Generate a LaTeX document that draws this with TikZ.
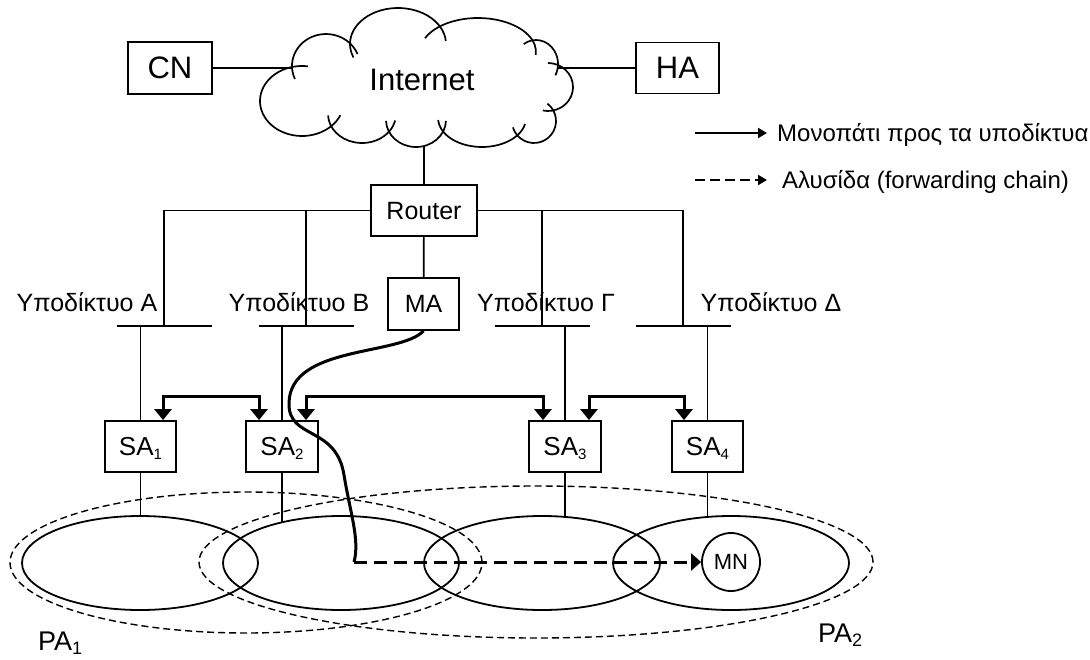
\documentclass[tikz,border=0pt]{standalone}
\usepackage{fontspec}
\setmainfont{Liberation Sans}
\usetikzlibrary{arrows.meta,shapes.geometric}
\newcommand\fsz[1]{\fontsize{#1}{#1}\selectfont}
\newcommand\lowidx[3]{\raisebox{-#3pt}{\fontsize{#2}{#2}\selectfont #1}}
\begin{document}
\begin{tikzpicture}[x=1pt,y=-1pt,
  thinln/.style={line width=1.7pt},
  boldln/.style={line width=3pt},
  cloudln/.style={line width=1.7pt},
  boxnode/.style={draw, line width=1.8pt, inner sep=0pt, minimum height=51pt, text depth=0pt},
  zone/.style={draw, ellipse, line width=1.8pt, inner sep=0pt, minimum width=236pt, minimum height=94pt},
  pazone/.style={draw, ellipse, line width=1.4pt, dash pattern=on 7pt off 4pt, inner sep=0pt},
  biarrow/.style={line width=3pt, {Triangle[length=11pt,width=17pt]}-{Triangle[length=11pt,width=17pt]}},
  chainarrow/.style={line width=3pt, dash pattern=on 13pt off 7pt, -{Triangle[length=10pt,width=17pt]}},
  legarrow/.style={line width=2pt, -{Triangle[length=9pt,width=10pt]}},
  sublabel/.style={anchor=base, inner sep=0pt, font=\fsz{25}},
  legtext/.style={anchor=base west, inner sep=0pt, font=\fsz{24}}
]
\useasboundingbox (0,0) rectangle (1090,659);

% --- Internet cloud: overlapping puffs, each arc running a little past its neighbours
\foreach \cx/\cy/\rx/\ry/\sa/\ea in {
  302/101/42/35/24/278, 326/66/34/32/156/338, 398/44/48/36/158/355,
  478/52/58/34/204/365, 536/64/22/24/236/388, 548/87/25/24/270/462,
  534/121/22/22/308/523, 482/118/44/29/12/176, 416/120/30/27/2/178,
  362/114/34/29/13/177}
  \draw[cloudln] (\cx,\cy) ++({\rx*cos(\sa)},{\ry*sin(\sa)}) arc[start angle=\sa, end angle=\ea, x radius=\rx, y radius=\ry];
\node[inner sep=0pt, font=\fsz{31}] (inet) at (422,80) {Internet};
\coordinate (cl) at (292,68);
\coordinate (cr) at (558,68);
\coordinate (cb) at (424,146);

% --- hosts attached to the Internet
\node[boxnode, minimum width=84pt, minimum height=52pt, font=\fsz{31}] (cn) at (170,68) {CN};
\node[boxnode, minimum width=83pt, font=\fsz{31}] (ha) at (677.5,68) {HA};
\draw[thinln] (cn.east) -- (cl);
\draw[thinln] (cr) -- (ha.west);

% --- router, MA and the four subnets
\node[boxnode, minimum width=106pt, font=\fsz{25}] (router) at (424,210.5) {Router};
\node[boxnode, minimum width=71pt, minimum height=52pt, font=\fsz{25}] (ma) at (423.5,304) {MA};
\draw[thinln] (cb) -- (router.north);
\draw[thinln] (router) -- (ma);

\coordinate (bA) at (164,326);
\coordinate (bB) at (306,326);
\coordinate (bG) at (542,326);
\coordinate (bD) at (683,326);
\draw[thinln] (router.west) -| (bA);
\draw[thinln] (bB |- router.west) -- (bB);
\draw[thinln] (router.east) -| (bD);
\draw[thinln] (bG |- router.east) -- (bG);
\foreach \b in {bA,bB,bG,bD}
  \draw[thinln] ([xshift=-47.5pt]\b) -- ([xshift=47.5pt]\b);

\node[sublabel] (labA) at (87,311) {Υποδίκτυο Α};
\node[sublabel] (labB) at (299,311) {Υποδίκτυο Β};
\node[sublabel] (labG) at (546,311) {Υποδίκτυο Γ};
\node[sublabel] (labD) at (771,311) {Υποδίκτυο Δ};

% --- subnet agents
\node[boxnode, minimum width=71pt, font=\fsz{26}] (sa1) at (140.5,446.5) {SA\lowidx{1}{15}{4}};
\node[boxnode, minimum width=72pt, font=\fsz{26}] (sa2) at (282,446.5) {SA\lowidx{2}{15}{4}};
\node[boxnode, minimum width=72pt, font=\fsz{26}] (sa3) at (565,446.5) {SA\lowidx{3}{15}{4}};
\node[boxnode, minimum width=71pt, font=\fsz{26}] (sa4) at (707.5,446.5) {SA\lowidx{4}{15}{4}};
\draw[thinln] (sa1.north |- bA) -- (sa1.north);
\draw[thinln] (sa2.north |- bB) -- (sa2.north);
\draw[thinln] (sa3.north |- bG) -- (sa3.north);
\draw[thinln] (sa4.north |- bD) -- (sa4.north);

% --- paging areas and cells
\node[pazone, minimum width=472pt, minimum height=141pt] (pa1) at (246,562.5) {};
\node[pazone, minimum width=674pt, minimum height=152pt] (pa2) at (536,562) {};
\node[zone] (e1) at (140,563) {};
\node[zone] (e2) at (341,563) {};
\node[zone] (e3) at (542,563) {};
\node[zone] (e4) at (731,563) {};
\coordinate (t1) at (140.5,516);
\coordinate (t2) at (282,522.3);
\coordinate (t3) at (565,517);
\coordinate (t4) at (707.5,517);
\draw[thinln] (sa1.south) -- (t1);
\draw[thinln] (sa2.south) -- (t2);
\draw[thinln] (sa3.south) -- (t3);
\draw[thinln] (sa4.south) -- (t4);

\node[anchor=base west, inner sep=0pt, font=\fsz{27}] (pa1lbl) at (38,650) {PA\lowidx{1}{18}{4}};
\node[anchor=base west, inner sep=0pt, font=\fsz{27}] (pa2lbl) at (818,642) {PA\lowidx{2}{18}{4}};

% --- mobile node
\node[draw, circle, line width=1.8pt, minimum size=58pt, inner sep=0pt, font=\fsz{22}] (mn) at (731,562) {MN};

% --- paths between neighbouring agents
\draw[biarrow] ([xshift=22.5pt]sa1.north) -- ++(0,-24) -| ([xshift=-23pt]sa2.north);
\draw[biarrow] ([xshift=24pt]sa2.north) -- ++(0,-24) -| ([xshift=-22pt]sa3.north);
\draw[biarrow] ([xshift=24pt]sa3.north) -- ++(0,-24) -| ([xshift=-23.5pt]sa4.north);

% --- route from MA down to the forwarding chain
\coordinate (chain) at (354,562);
\draw[boldln, line join=round] (ma.south) .. controls (400,356) and (290,345) .. (289,403)
  .. controls (288,440) and (336,425) .. (344,475)
  .. controls (350,512) and (360,540) .. (chain);
\draw[chainarrow] (chain) -- (mn.west);

% --- legend
\coordinate (lg1s) at (695,133);
\coordinate (lg1e) at (767,133);
\coordinate (lg2s) at (695,180);
\coordinate (lg2e) at (767,180);
\draw[legarrow] (lg1s) -- (lg1e);
\draw[legarrow, dash pattern=on 10pt off 5pt] (lg2s) -- (lg2e);
\node[legtext] (lt1) at (777,141.6) {Μονοπάτι προς τα υποδίκτυα};
\node[legtext] (lt2) at (782,188.6) {Αλυσίδα (forwarding chain)};
\end{tikzpicture}
\end{document}
